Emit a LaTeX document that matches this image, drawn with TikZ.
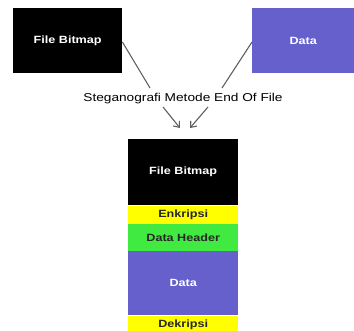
\documentclass[tikz,border=0pt]{standalone}
\usepackage{fontspec}
\setmainfont{Liberation Sans}[FakeStretch=1.2]
\usetikzlibrary{arrows.meta}
\definecolor{slate}{RGB}{102,96,204}
\definecolor{lime}{RGB}{64,234,64}
\definecolor{yel}{RGB}{255,255,0}
\definecolor{wire}{RGB}{95,95,95}
\tikzset{
  blockbox/.style={draw=none, minimum width=#1, inner sep=0pt, font=\fontsize{10.5}{12}\selectfont\bfseries},
  wirefree/.style={draw=wire, line width=1.1pt},
  wirearrow/.style={wirefree, -{Straight Barb[length=5pt,width=8pt]}},
}
\begin{document}
\begin{tikzpicture}[x=1pt,y=-1pt]
\useasboundingbox (0,0) rectangle (354,330);
% source blocks
\node[blockbox=109pt, minimum height=65pt, fill=black, text=white, anchor=north west] (bmpsrc) at (13,8) {File Bitmap};
\node[blockbox=102pt, minimum height=65pt, fill=slate, text=white, anchor=north west] (datasrc) at (252,8) {Data};
% process label
\node[font=\fontsize{11.4}{13}\selectfont, inner sep=1pt] (lbl) at (183,99) {Steganografi Metode End Of File};
% result stack
\node[blockbox=110pt, minimum height=66pt, fill=black, text=white, anchor=north west] (bmpout) at (128,139) {File Bitmap};
\node[blockbox=110pt, minimum height=18pt, fill=yel, text=black!85, anchor=north] (enc) at (bmpout.south) {Enkripsi};
\node[blockbox=110pt, minimum height=27pt, fill=lime, text=black!85, anchor=north] (hdr) at (enc.south) {Data Header};
\node[blockbox=110pt, minimum height=64pt, fill=slate, text=white, anchor=north] (dat) at (hdr.south) {Data};
\node[blockbox=110pt, minimum height=18pt, fill=yel, text=black!85, anchor=north] (dec) at (dat.south) {Dekripsi};
% connector ends
\coordinate (inL) at (150,88);
\coordinate (inR) at (222,88);
\coordinate (outL) at (163,107);
\coordinate (outR) at (208,107);
\coordinate (hitL) at (180,128);
\coordinate (hitR) at (190,128);
\draw[wirefree] (bmpsrc.east |- 0,42) -- (inL);
\draw[wirefree] (datasrc.west |- 0,42) -- (inR);
\draw[wirearrow] (outL) -- (hitL);
\draw[wirearrow] (outR) -- (hitR);
\end{tikzpicture}
\end{document}
